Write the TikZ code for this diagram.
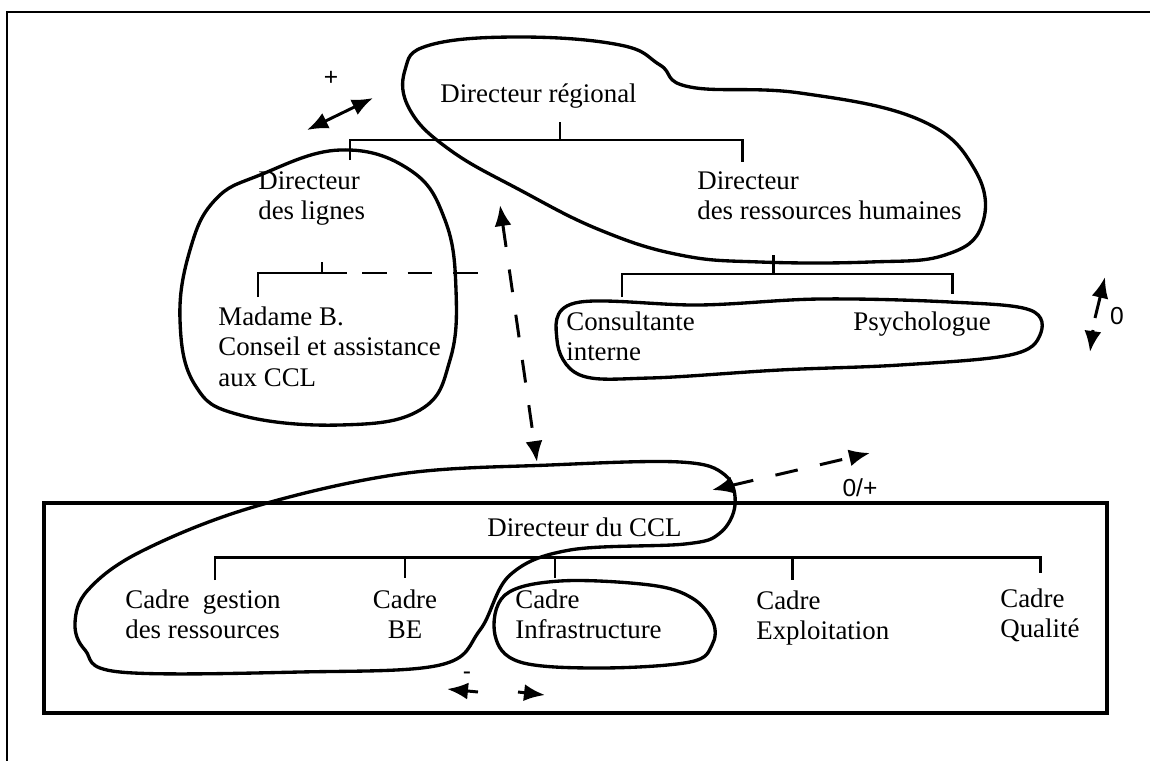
\documentclass[tikz,border=0pt]{standalone}
\usepackage{fontspec}
\setmainfont{Liberation Serif}
\newfontfamily\marksfont{Liberation Sans}
\usetikzlibrary{arrows.meta}
\tikzset{
  >={Latex[length=4.2mm,width=3.4mm]},
  lbl/.style={font=\fontsize{15.3}{17.5}\selectfont,align=left,inner sep=0pt,anchor=north west},
  mark lbl/.style={font=\marksfont\fontsize{14}{16}\selectfont,inner sep=0pt},
  org/.style={line width=1.7pt},
  loop/.style={line width=1.9pt},
  rel/.style={line width=1.7pt},
  link/.style={rel,dash pattern=on 13pt off 13pt},
  frame/.style={line width=1.3pt},
  ccl box/.style={line width=2pt},
}
\begin{document}
\begin{tikzpicture}[x=0.02cm,y=-0.02cm]
  \useasboundingbox (0,0) rectangle (1150,761);
  \draw[frame] (1150,12) -- (7,12) -- (7,761);

  % upper level
  \node[lbl] (dreg) at (440,83) {Directeur régional};
  \node[lbl] (dlig) at (258,171) {Directeur\\des lignes};
  \node[lbl] (drh) at (697,171) {Directeur\\des ressources humaines};
  \node[lbl] (madb) at (218,306) {Madame B.\\Conseil et assistance\\aux CCL};
  \node[lbl] (cons) at (566,311) {Consultante\\interne};
  \node[lbl] (psy) at (853,311) {Psychologue};

  \path (560,122) coordinate (dreg-out) (350,160) coordinate (dlig-in) (742,162) coordinate (drh-in);
  \draw[org] (dreg-out) -- ++(0,18) coordinate (bus1);
  \draw[org] (dlig-in) |- (drh-in |- bus1) -- (drh-in);

  \path (322,262) coordinate (dlig-out) (258,297) coordinate (madb-in) (480,273) coordinate (dlig-end);
  \draw[org] (dlig-out) -- ++(0,11) coordinate (bus2);
  \draw[org] (madb-in) |- (347,273) coordinate (bus2e);
  \draw[org,dash pattern=on 14pt off 12pt] (bus2e) ++(15,0) -- (dlig-end);

  \path (773,255) coordinate (drh-out) (622,297) coordinate (cons-in) (952,294) coordinate (psy-in);
  \draw[org] (drh-out) -- ++(0,19) coordinate (bus3);
  \draw[org] (cons-in) |- (psy-in |- bus3) -- (psy-in);

  % lower level
  \draw[ccl box] (44,503) rectangle (1107,713);
  \node[lbl] (dccl) at (487,517) {Directeur du CCL};
  \node[lbl] (cges) at (125,589) {Cadre\ \ gestion\\des ressources};
  \node[lbl,align=center,anchor=north] (cbe) at (405,589) {Cadre\\BE};
  \node[lbl] (cinf) at (515,589) {Cadre\\Infrastructure};
  \node[lbl] (cexp) at (756,590) {Cadre\\Exploitation};
  \node[lbl] (cqua) at (1000,588) {Cadre\\Qualité};

  \draw[org] (215,580) |- (1040,557) -- (1040,573);
  \foreach \x/\y in {405/578,555/578,792/580} \draw[org] (\x,557) -- (\x,\y);

  % groups
  \draw[loop] plot[smooth cycle,tension=0.7] coordinates {(430,45) (520,37) (620,45) (660,65) (690,87) (800,93) (920,120) (975,170) (982,225) (945,255) (870,262) (760,262) (680,255) (600,230) (520,190) (450,150) (410,110) (405,70)};
  \draw[loop] plot[smooth cycle,tension=0.7] coordinates {(260,175) (340,150) (410,170) (445,220) (456,290) (450,360) (420,410) (340,425) (240,415) (195,385) (180,320) (190,250) (215,200)};
  \draw[loop] plot[smooth cycle,tension=0.6] coordinates {(575,303) (700,305) (820,299) (950,302) (1030,310) (1040,335) (1010,355) (900,365) (780,370) (650,378) (580,375) (557,340)};
  \draw[loop] plot[smooth cycle,tension=0.6] coordinates {(550,465) (680,462) (725,475) (735,505) (720,533) (685,544) (570,550) (510,575) (480,630) (440,665) (300,672) (120,672) (85,650) (75,623) (88,590) (140,552) (250,508) (400,474)};
  \draw[loop] plot[smooth cycle,tension=0.6] coordinates {(505,595) (560,581) (650,585) (692,598) (713,622) (712,645) (690,662) (600,668) (520,662) (495,635)};

  % relations
  \node[mark lbl] (plus) at (331,78) {+};
  \draw[<->,rel] (307,130) coordinate (pa) -- (373,98) coordinate (pb);
  \draw[<->,link] (500,205) coordinate (va) -- (537,462) coordinate (vb);
  \node[mark lbl] (zero) at (1117,316) {0};
  \draw[->,rel] (1095,318) coordinate (za) -- (1105,277) coordinate (zb);
  \draw[->,rel] (1093,330) coordinate (zc) -- (1090,352) coordinate (zd);
  \node[mark lbl] (zp) at (860,488) {0/+};
  \draw[<->,link] (712,490) coordinate (qa) -- (870,453) coordinate (qb);
  \node[mark lbl] (minus) at (467,676) {-};
  \coordinate (mm) at (498,692);
  \draw[->,rel] ([xshift=-0.4cm]mm) -- (447,689);
  \draw[->,rel] ([xshift=0.4cm]mm) -- (545,695);
\end{tikzpicture}
\end{document}
